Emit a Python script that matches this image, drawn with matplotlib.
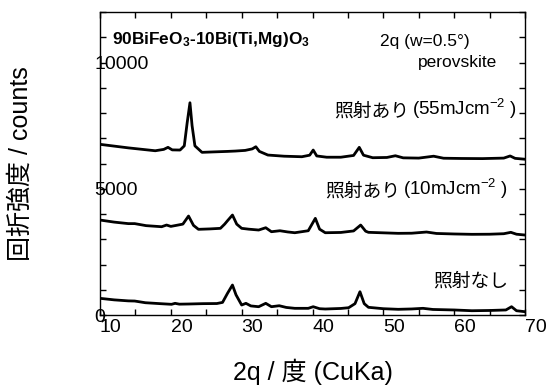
import matplotlib
matplotlib.use('Agg')
import matplotlib.pyplot as plt
from matplotlib.ticker import MultipleLocator

plt.rcParams['font.family'] = ['Liberation Sans', 'Noto Sans CJK JP']
plt.rcParams['mathtext.fontset'] = 'custom'
plt.rcParams['mathtext.rm'] = 'Liberation Sans'
plt.rcParams['mathtext.it'] = 'Liberation Sans:italic'
plt.rcParams['mathtext.bf'] = 'Liberation Sans:bold'

# 照射あり (55 mJ/cm2)
tt_55 = [10.0, 12.0, 14.0, 16.0, 17.8, 19.0, 19.6, 20.2, 21.3, 21.9, 22.3, 22.7,
         23.0, 23.4, 24.4, 26.0, 28.0, 29.1, 30.5, 31.5, 32.0, 32.5, 33.7, 36.0,
         38.5, 39.6, 40.1, 40.6, 42.0, 44.0, 45.8, 46.6, 47.2, 48.5, 50.5, 51.7,
         52.8, 55.0, 57.1, 58.5, 61.0, 64.0, 67.0, 67.9, 68.6, 70.0]
cnt_55 = [6760, 6690, 6620, 6560, 6506, 6560, 6641, 6540, 6534, 6700, 7600, 8407,
          7500, 6700, 6443, 6460, 6480, 6494, 6520, 6580, 6665, 6480, 6336, 6290,
          6269, 6330, 6534, 6300, 6250, 6250, 6320, 6641, 6330, 6230, 6240, 6308,
          6225, 6215, 6290, 6210, 6200, 6195, 6215, 6300, 6205, 6170]

# 照射あり (10 mJ/cm2)
tt_10 = [10.0, 12.0, 14.0, 14.9, 16.5, 18.7, 19.4, 20.0, 20.8, 21.7, 22.5, 23.2,
         23.9, 25.5, 27.0, 27.6, 28.0, 28.7, 29.3, 30.0, 31.0, 32.4, 33.4, 34.2,
         35.4, 36.5, 37.5, 39.4, 40.4, 41.0, 41.8, 44.0, 45.8, 46.8, 47.5, 47.9,
         50.0, 52.1, 54.0, 56.1, 57.5, 60.0, 62.5, 65.0, 67.0, 68.0, 68.8, 70.0]
cnt_10 = [3762, 3680, 3620, 3620, 3540, 3497, 3564, 3510, 3552, 3600, 3920, 3550,
          3394, 3410, 3433, 3600, 3734, 3960, 3600, 3433, 3400, 3366, 3457, 3299,
          3338, 3290, 3259, 3338, 3829, 3400, 3259, 3270, 3330, 3564, 3320, 3275,
          3255, 3235, 3240, 3287, 3230, 3210, 3196, 3200, 3220, 3275, 3200, 3168]

# 照射なし
tt_0 = [10.0, 12.0, 14.0, 14.9, 16.4, 18.5, 20.1, 20.6, 21.2, 22.5, 24.5, 26.5,
        27.3, 28.0, 28.7, 29.2, 30.0, 30.6, 31.3, 32.4, 33.4, 34.2, 35.3, 36.3,
        37.5, 39.4, 40.1, 41.0, 41.8, 44.0, 45.1, 46.0, 46.7, 47.3, 47.9, 50.0,
        52.1, 54.0, 55.6, 57.0, 60.0, 62.5, 65.0, 67.3, 68.1, 68.8, 70.0]
cnt_0 = [661, 600, 560, 554, 487, 450, 424, 463, 430, 436, 450, 455,
         500, 859, 1188, 800, 396, 463, 360, 329, 463, 329, 368, 300,
         265, 265, 329, 250, 238, 260, 289, 450, 923, 450, 305, 250,
         226, 240, 265, 220, 200, 170, 180, 200, 329, 170, 131]

x_ticks = [10, 20, 30, 40, 50, 60, 70]
y_ticks = [0, 5000, 10000]

fig = plt.figure(figsize=(5.47, 3.87), dpi=100)
ax = fig.add_axes([0.1828, 0.1860, 0.7770, 0.7829])

for tt, cnt in [(tt_55, cnt_55), (tt_10, cnt_10), (tt_0, cnt_0)]:
    ax.plot(tt, cnt, color='black', lw=2.0, solid_joinstyle='round')

ax.set_xlim(10, 70)
ax.set_ylim(0, 12000)
ax.set_xticks(x_ticks, [str(v) for v in x_ticks], ha='left')
ax.set_yticks(y_ticks, [str(v) for v in y_ticks], ha='left')
ax.xaxis.set_minor_locator(MultipleLocator(5))
ax.yaxis.set_minor_locator(MultipleLocator(1000))
ax.tick_params(which='both', direction='in', top=True, right=True,
               length=4.5, width=1, colors='black')
ax.tick_params(axis='x', which='major', pad=3, labelsize=14)
ax.tick_params(axis='y', which='major', pad=4.3, labelsize=14)
for sp in ax.spines.values():
    sp.set_linewidth(1)

ax.set_xlabel('2q / 度 (CuKa)', fontsize=18)
ax.set_ylabel('回折強度 / counts', fontsize=18)
ax.xaxis.set_label_coords(0.5, -0.145)
ax.yaxis.set_label_coords(-0.158, 0.5)

ax.text(0.028, 0.911, r'90BiFeO$_\mathbf{3}$-10Bi(Ti,Mg)O$_\mathbf{3}$',
        transform=ax.transAxes, fontsize=12.4, fontweight='bold',
        ha='left', va='center')
ax.text(0.659, 0.904, '2q (w=0.5°)', transform=ax.transAxes, fontsize=12.5,
        ha='left', va='center')
ax.text(0.934, 0.835, 'perovskite', transform=ax.transAxes, fontsize=12.5,
        ha='right', va='center')

for xr, yc, dose in [(0.981, 0.660, '55'), (0.960, 0.396, '10')]:
    t = ax.text(xr, yc, '(' + dose + r'mJcm$^{-2}$ )', transform=ax.transAxes,
                fontsize=13.5, ha='right', va='baseline')
    ax.annotate('照射あり', xy=(0, 0), xycoords=t, xytext=(-2, 0),
                textcoords='offset points', fontsize=13.5,
                ha='right', va='bottom')

ax.text(0.960, 0.109, '照射なし', transform=ax.transAxes, fontsize=13.5,
        ha='right', va='center')

fig.savefig('out.png', dpi=100)
